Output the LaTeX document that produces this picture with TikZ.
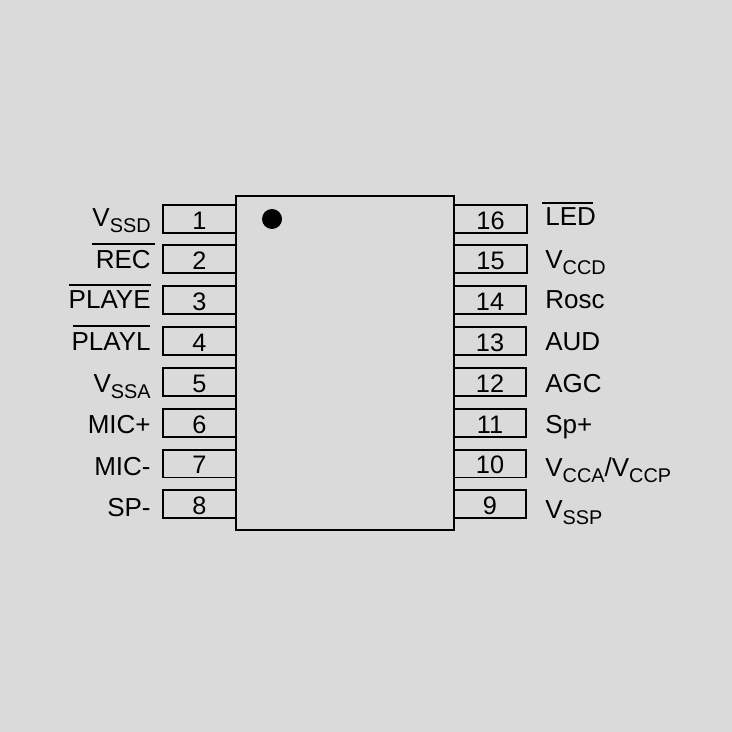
\documentclass[tikz,border=0pt]{standalone}
\usepackage{fontspec}
\setmainfont{Liberation Sans}
\definecolor{panel}{HTML}{DADADA}
\newcommand{\pinsub}[1]{\raisebox{-3.4pt}{\fontsize{11.3}{13}\selectfont #1}}
\tikzset{
	chipline/.style={line width=0.04cm,black},
	pinbox/.style={chipline,draw,rectangle,inner sep=0pt,outer sep=0pt,minimum height=0.56cm,text height=11.4pt,text depth=0pt,font=\fontsize{14.4}{16}\selectfont},
	pinname/.style={inner sep=0pt,yshift=-0.03cm,font=\fontsize{14.8}{16}\selectfont},
}
\begin{document}
\begin{tikzpicture}[x=0.02cm,y=-0.02cm]
			\fill[panel] (0,0) rectangle (732,732);
			\useasboundingbox (0,0) rectangle (732,732);
			% pins left and right
			\foreach \n/\y in {1/219,2/259,3/300,4/341,5/382,6/423,7/463.5,8/504}
				\node[pinbox,minimum width=1.46cm] (pin\n) at (199.5,\y) {\n};
			\foreach \n/\y/\w in {16/219/1.46,15/259/1.46,14/300/1.44,13/341/1.44,12/382/1.44,11/423/1.44,10/463.5/1.44,9/504/1.44}
				\node[pinbox,minimum width=\w cm,anchor=west] (pin\n) at (454,\y) {\n};
			\node[chipline,draw,fill=panel,rectangle,inner sep=0pt,outer sep=0pt,minimum width=4.36cm,minimum height=6.68cm] (chip) at (345,363) {};
			\fill (272,219) circle (10);
			% names
			\foreach \n/\y/\t in {1/225/{V\pinsub{SSD}},2/267/REC,3/307/PLAYE,4/349/PLAYL,5/391/{V\pinsub{SSA}},6/432/MIC+,7/474/MIC-,8/515/SP-}
				\node[pinname,anchor=base east] (name\n) at (151,\y) {\t};
			\foreach \n/\y/\t in {16/224/LED,15/267/{V\pinsub{CCD}},14/307/Rosc,13/349/AUD,12/391/AGC,11/432/Sp+,10/475/{V\pinsub{CCA}/V\pinsub{CCP}},9/517/{V\pinsub{SSP}}}
				\node[pinname,anchor=base west] (name\n) at (545,\y) {\t};
			% bars over the active low names
			\draw[chipline] (92,244)--(155,244);
			\draw[chipline] (69,285)--(151,285);
			\draw[chipline] (73,326)--(150,326);
			\draw[chipline] (542,203)--(593,203);
		\end{tikzpicture}
\end{document}
